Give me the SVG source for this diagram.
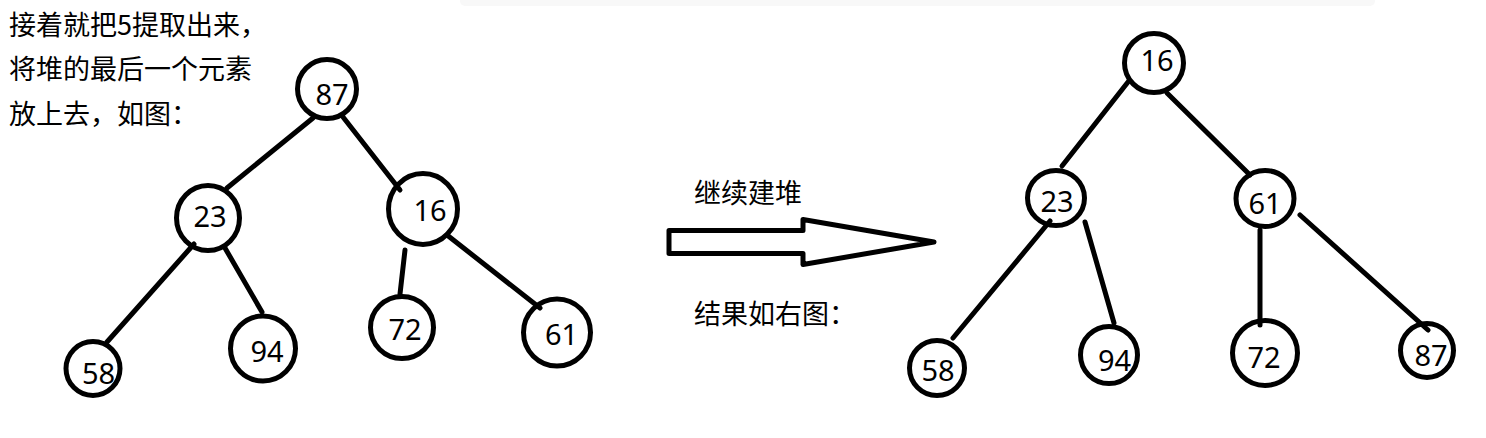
<svg xmlns="http://www.w3.org/2000/svg" width="1486" height="438" viewBox="0 0 1486 438">
<style>
.n{fill:#fff;stroke:#000;stroke-width:5}
.t{font-family:"Noto Sans","Open Sans","Liberation Sans",sans-serif;font-size:29px;fill:#000;text-anchor:middle}
.c{font-family:"Noto Sans CJK SC","Noto Sans",sans-serif;font-size:27px;fill:#000}
.e{stroke:#000;stroke-width:5;stroke-linecap:round;fill:none}
</style>
<rect width="1486" height="438" fill="#fff"/>
<rect x="460" y="-8" width="915" height="14" rx="5" fill="#f8f8f8"/>
<g id="caption-left">
<text class="c" x="9" y="35">接着就把5提取出来，</text>
<text class="c" x="9" y="79">将堆的最后一个元素</text>
<text class="c" x="9" y="124">放上去，如图：</text>
</g>
<g id="caption-mid">
<text class="c" x="694" y="203">继续建堆</text>
<text class="c" x="694" y="324">结果如右图：</text>
</g>
<g id="arrow">
<path d="M669,230.5 H803 V219.5 L934,242 L803,264.5 V253.5 H669 Z" fill="none" stroke="#000" stroke-width="5" stroke-linejoin="round"/>
</g>
<g id="L87"><ellipse class="n" cx="327" cy="89" rx="29.5" ry="29.5"/><text class="t" x="332" y="104.5">87</text></g>
<g id="L23"><ellipse class="n" cx="208" cy="218" rx="31.5" ry="32.5"/><text class="t" x="210" y="226.5">23</text></g>
<g id="L16"><ellipse class="n" cx="423" cy="209" rx="34.5" ry="35.5"/><text class="t" x="430" y="220.5">16</text></g>
<g id="L58"><ellipse class="n" cx="93" cy="368.5" rx="27" ry="27"/><text class="t" x="98.5" y="383.5">58</text></g>
<g id="L94"><ellipse class="n" cx="263" cy="348.5" rx="32.5" ry="32.5"/><text class="t" x="267" y="362">94</text></g>
<g id="L72"><ellipse class="n" cx="402" cy="327.5" rx="31.5" ry="31"/><text class="t" x="405" y="339.5">72</text></g>
<g id="L61"><ellipse class="n" cx="557" cy="332.5" rx="33.5" ry="33.5"/><text class="t" x="561.5" y="345">61</text></g>
<g id="R16"><ellipse class="n" cx="1154" cy="63" rx="29.5" ry="29.5"/><text class="t" x="1157" y="70.5">16</text></g>
<g id="R23"><ellipse class="n" cx="1056" cy="198" rx="28.5" ry="27.5"/><text class="t" x="1057" y="211.5">23</text></g>
<g id="R61"><ellipse class="n" cx="1265" cy="198.5" rx="29" ry="28"/><text class="t" x="1265" y="214">61</text></g>
<g id="R58"><ellipse class="n" cx="937" cy="368" rx="27.5" ry="27.5"/><text class="t" x="938" y="381">58</text></g>
<g id="R94"><ellipse class="n" cx="1109" cy="355" rx="28.5" ry="28.5"/><text class="t" x="1114.5" y="371">94</text></g>
<g id="R72"><ellipse class="n" cx="1265" cy="353" rx="32.5" ry="32.5"/><text class="t" x="1264" y="367.5">72</text></g>
<g id="R87"><ellipse class="n" cx="1427" cy="350.5" rx="26.5" ry="27"/><text class="t" x="1431" y="365.5">87</text></g>
<g id="connectors">
<line class="e" x1="313" y1="118" x2="227" y2="188"/>
<line class="e" x1="343" y1="117" x2="400" y2="190"/>
<line class="e" x1="194" y1="244" x2="107" y2="342"/>
<line class="e" x1="225" y1="248" x2="262" y2="312"/>
<line class="e" x1="405" y1="250" x2="400" y2="294"/>
<line class="e" x1="447" y1="235" x2="540" y2="308"/>
<line class="e" x1="1128" y1="82" x2="1062" y2="166"/>
<line class="e" x1="1167" y1="93" x2="1250" y2="175"/>
<line class="e" x1="1050" y1="221" x2="953" y2="338"/>
<line class="e" x1="1085" y1="222" x2="1114" y2="323"/>
<line class="e" x1="1260" y1="230" x2="1260" y2="325"/>
<line class="e" x1="1300" y1="215" x2="1428" y2="330"/>
</g>
</svg>
